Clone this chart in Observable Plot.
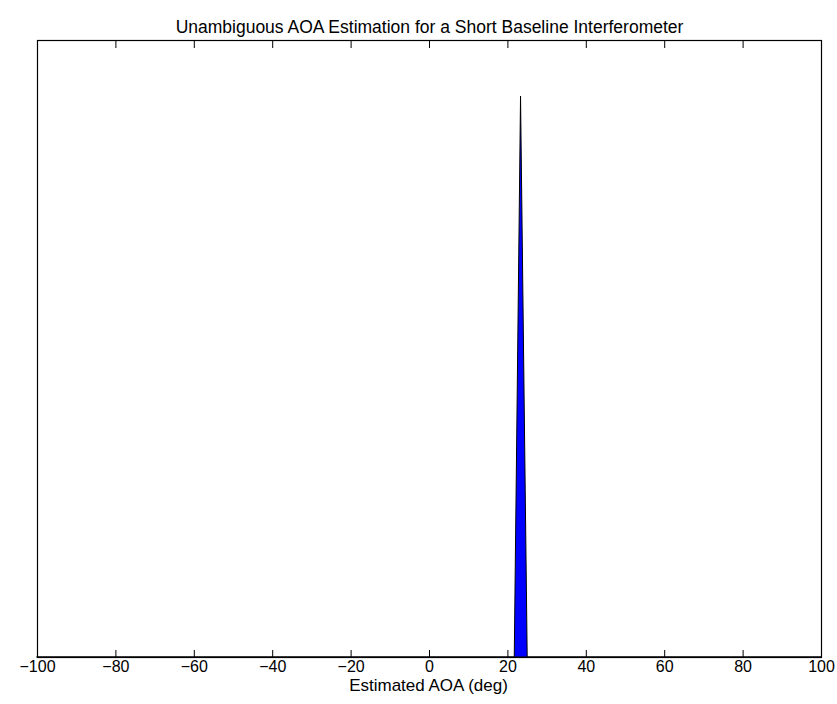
<!DOCTYPE html>
<html>
<head>
<meta charset="utf-8">
<script src="https://cdn.jsdelivr.net/npm/d3@7"></script>
<script src="https://cdn.jsdelivr.net/npm/@observablehq/plot@0.6"></script>
<style>
  html, body { margin: 0; padding: 0; background: #fff; }
  #chart svg { display: block; }
</style>
</head>
<body>
<div id="chart"></div>
<script>
// Estimated AOA histogram (linearly drawn, filled)
const aoaDeg = [-100, 21.75, 23.35, 25.05, 100];
const counts = [0, 0, 1, 0, 0];
const xTicks = [-100, -80, -60, -40, -20, 0, 20, 40, 60, 80, 100];
const titleText = "Unambiguous AOA Estimation for a Short Baseline Interferometer";
const xLabel = "Estimated AOA (deg)";

const data = aoaDeg.map((x, i) => ({x, y: counts[i]}));
const fmt = d => d < 0 ? "\u2212" + Math.abs(d) : String(d);

const chart = Plot.plot({
  width: 837,
  height: 704,
  marginLeft: 37,
  marginRight: 16,
  marginTop: 40,
  marginBottom: 47,
  style: {fontFamily: "'Liberation Sans', Arial, Helvetica, sans-serif", fontSize: "16px", background: "#fff"},
  x: {domain: [-100, 100]},
  y: {domain: [0, 1.1], axis: null},
  marks: [
    Plot.areaY(data, {x: "x", y: "y", fill: "#0000ff", stroke: "#000", strokeWidth: 1}),
    Plot.axisX(xTicks, {anchor: "bottom", tickSize: -7, tickFormat: () => "", stroke: "#000", label: null}),
    Plot.axisX(xTicks, {anchor: "top", tickSize: -7, tickFormat: () => "", stroke: "#000", label: null}),
    Plot.text(xTicks, {x: d => d, frameAnchor: "bottom", dy: 14, text: fmt, fontSize: 16, fill: "#000"}),
    Plot.frame({stroke: "#000", strokeWidth: 1.2}),
    Plot.text([titleText], {frameAnchor: "top", dy: -20, text: d => d, fontSize: 17.5, fill: "#000"}),
    Plot.text([xLabel], {frameAnchor: "bottom", dx: -1, dy: 33, text: d => d, fontSize: 17, fill: "#000"})
  ]
});
document.getElementById("chart").appendChild(chart);
</script>
</body>
</html>
